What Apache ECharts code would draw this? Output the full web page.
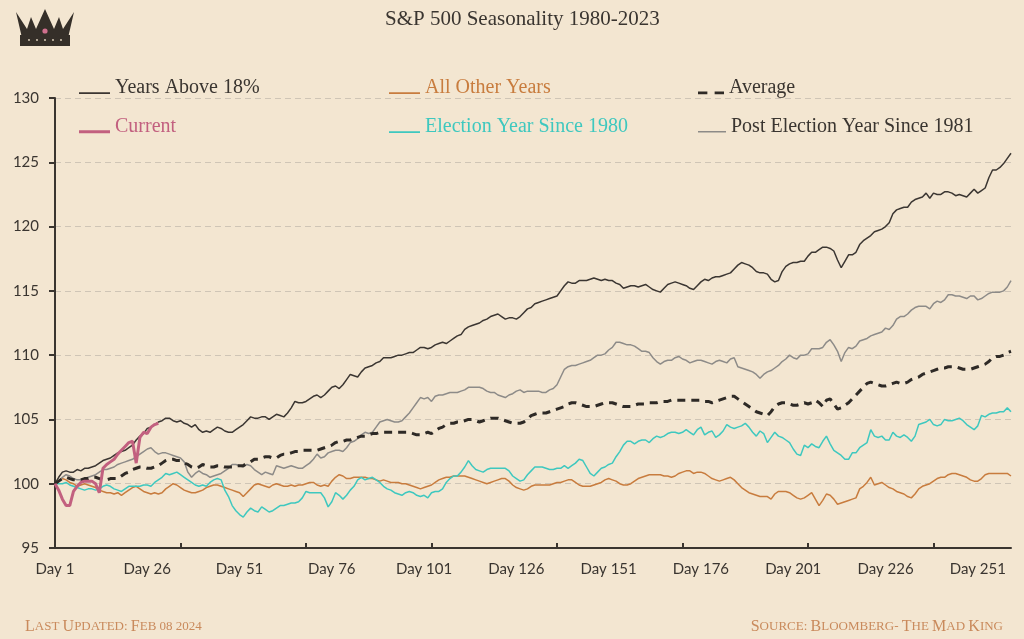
<!DOCTYPE html>
<html>
<head>
<meta charset="utf-8">
<script src="https://cdn.jsdelivr.net/npm/echarts@6/dist/echarts.min.js"></script>
<style>
html,body{margin:0;padding:0;background:#f3e6d1;}
#chart{width:1024px;height:639px;}
</style>
</head>
<body>
<div id="chart"></div>
<script>
// ---- Data ----
const dayCount = 260;
const days = Array.from({length: dayCount}, (_, i) => 'Day ' + (i + 1));

const yearsAbove18 = [
100.0,100.5,100.9,101.0,100.9,100.9,101.1,101.0,101.2,101.2,
101.3,101.4,101.6,101.8,101.9,102.0,102.2,102.4,102.5,102.6,
102.8,103.0,103.4,103.7,103.9,104.3,104.4,104.6,104.8,104.9,
105.1,105.1,104.9,104.8,104.9,104.7,104.6,104.4,104.6,104.2,
104.0,104.1,104.0,104.2,104.4,104.3,104.1,104.0,104.0,104.2,
104.4,104.6,104.9,105.2,105.1,105.1,105.2,105.2,105.0,105.2,
105.4,105.3,105.2,105.5,105.9,106.4,106.3,106.3,106.4,106.6,
106.8,106.9,106.7,106.9,107.2,107.5,107.6,107.4,107.7,108.1,
108.5,108.4,108.3,108.7,109.0,109.1,109.2,109.4,109.5,109.8,
109.8,109.8,109.9,110.0,110.0,110.1,110.2,110.2,110.4,110.6,
110.6,110.5,110.6,110.8,110.9,111.0,110.9,111.1,111.3,111.5,
111.6,112.0,112.2,112.3,112.4,112.5,112.7,112.8,113.0,113.1,
113.2,113.0,112.8,112.9,112.9,112.8,113.0,113.3,113.6,113.7,
114.0,114.1,114.2,114.3,114.4,114.5,114.6,115.0,115.4,115.7,
115.6,115.6,115.8,115.8,115.8,115.9,116.0,115.9,115.8,115.9,
115.8,115.8,115.6,115.5,115.2,115.3,115.4,115.4,115.3,115.4,
115.5,115.3,115.1,115.0,114.9,115.2,115.5,115.6,115.7,115.6,
115.5,115.4,115.2,115.1,115.4,115.7,115.9,115.8,116.0,116.1,
116.1,116.2,116.3,116.4,116.7,117.0,117.2,117.1,117.0,116.8,
116.5,116.4,116.4,116.3,115.9,115.7,115.8,116.5,116.9,117.1,
117.2,117.2,117.3,117.3,117.7,118.0,118.0,118.2,118.4,118.4,
118.3,118.1,117.4,116.8,117.3,117.8,117.8,118.0,118.6,118.9,
119.1,119.3,119.6,119.7,119.8,120.0,120.3,121.0,121.3,121.4,
121.5,121.5,121.9,122.1,122.2,122.3,122.6,122.2,122.6,122.5,
122.5,122.7,122.7,122.6,122.4,122.5,122.4,122.3,122.6,122.9,
122.6,122.8,123.0,123.8,124.4,124.4,124.6,124.9,125.3,125.7];

const allOtherYears = [
100.0,100.2,100.4,100.3,100.1,100.0,99.8,99.9,100.0,99.9,
99.8,99.7,99.5,99.4,99.3,99.3,99.2,99.3,99.1,99.3,
99.5,99.7,99.8,99.6,99.4,99.3,99.2,99.3,99.2,99.3,
99.6,99.8,100.0,99.9,99.7,99.5,99.4,99.3,99.3,99.4,
99.5,99.7,99.8,99.9,99.9,99.8,99.7,99.6,99.5,99.4,
99.3,99.0,99.3,99.6,99.9,100.0,99.9,99.8,99.7,99.9,
100.0,99.9,99.8,99.8,99.9,99.8,99.9,99.9,100.0,100.1,
100.1,99.9,99.8,99.9,99.8,100.2,100.5,100.7,100.6,100.4,
100.4,100.5,100.5,100.5,100.5,100.4,100.4,100.3,100.2,100.3,
100.2,100.1,100.1,100.1,100.0,100.0,99.9,99.8,99.7,99.6,
99.7,99.8,99.9,100.1,100.3,100.4,100.5,100.5,100.6,100.6,
100.6,100.6,100.5,100.4,100.3,100.2,100.1,100.0,100.1,100.2,
100.3,100.4,100.4,100.2,99.9,99.7,99.6,99.5,99.6,99.8,
99.9,99.9,99.9,99.9,99.9,100.0,100.1,100.1,100.2,100.3,
100.3,100.1,99.9,99.8,99.8,99.8,99.9,100.0,100.1,100.3,
100.4,100.3,100.2,100.0,99.9,99.9,100.0,100.2,100.4,100.5,
100.6,100.7,100.7,100.7,100.7,100.6,100.6,100.5,100.6,100.8,
100.9,101.0,101.0,100.8,100.9,100.9,100.8,100.6,100.4,100.3,
100.2,100.3,100.4,100.5,100.3,100.0,99.7,99.5,99.3,99.2,
99.1,99.0,99.0,99.0,98.8,99.2,99.4,99.4,99.4,99.3,
99.1,98.9,98.8,98.9,99.1,99.3,98.8,98.3,98.7,99.2,
99.1,98.8,98.4,98.5,98.6,98.7,98.8,98.9,99.6,99.8,
100.1,100.5,99.9,100.0,100.1,99.9,99.7,99.6,99.4,99.3,
99.2,99.0,98.9,99.2,99.6,99.8,99.9,100.0,100.2,100.4,
100.5,100.5,100.7,100.8,100.8,100.7,100.6,100.5,100.3,100.2,
100.2,100.4,100.7,100.8,100.8,100.8,100.8,100.8,100.8,100.6];

const average = [
100.0,100.2,100.4,100.5,100.4,100.3,100.3,100.3,100.4,100.4,
100.5,100.5,100.4,100.3,100.3,100.4,100.4,100.4,100.6,100.8,
100.9,101.1,101.2,101.3,101.3,101.2,101.2,101.3,101.4,101.6,
101.8,101.9,101.9,101.8,101.8,101.6,101.5,101.3,101.2,101.3,
101.5,101.4,101.3,101.3,101.4,101.4,101.3,101.3,101.3,101.4,
101.4,101.4,101.6,101.7,101.9,101.9,102.0,102.1,102.1,102.0,
102.0,102.2,102.3,102.3,102.4,102.5,102.5,102.6,102.6,102.6,
102.6,102.6,102.7,102.8,102.9,103.0,103.2,103.3,103.3,103.4,
103.4,103.5,103.6,103.7,103.7,103.8,103.9,103.9,104.0,104.0,
104.0,104.0,104.0,104.0,104.0,104.0,104.0,103.9,103.8,103.8,
103.9,104.0,103.9,104.1,104.3,104.4,104.6,104.7,104.7,104.8,
104.8,104.9,105.0,105.0,104.9,104.8,104.9,105.0,105.1,105.1,
105.1,105.0,104.9,104.8,104.7,104.7,104.7,104.8,105.0,105.3,
105.4,105.5,105.5,105.5,105.6,105.7,105.8,105.9,106.0,106.2,
106.3,106.3,106.2,106.1,106.0,106.0,106.0,106.1,106.2,106.3,
106.3,106.3,106.2,106.1,106.0,106.0,106.0,106.1,106.2,106.2,
106.2,106.3,106.3,106.3,106.4,106.4,106.4,106.5,106.5,106.5,
106.5,106.5,106.5,106.5,106.5,106.5,106.4,106.4,106.3,106.4,
106.5,106.6,106.7,106.8,106.8,106.6,106.4,106.2,106.0,105.8,
105.6,105.5,105.4,105.3,105.6,106.0,106.2,106.3,106.3,106.2,
106.1,106.1,106.2,106.3,106.2,106.3,106.5,106.3,106.0,106.5,
106.6,106.2,105.8,105.9,106.1,106.3,106.6,106.9,107.2,107.5,
107.8,107.9,107.8,107.7,107.6,107.6,107.7,107.8,107.9,107.8,
107.8,107.9,108.1,108.2,108.3,108.5,108.6,108.7,108.8,108.9,
109.0,109.0,109.1,109.1,109.1,109.0,108.9,108.9,108.9,109.0,
109.1,109.2,109.3,109.5,109.8,109.9,109.9,110.0,110.2,110.3];

const current = [
100.0,99.5,98.8,98.3,98.3,99.4,99.8,100.1,100.2,100.2,
100.2,100.0,99.3,101.2,101.5,101.7,101.9,102.3,102.6,102.9,
103.2,103.3,101.6,103.6,104.0,103.9,104.4,104.6,104.7];

const electionYear = [
100.0,100.0,100.0,100.1,99.9,99.8,99.7,99.6,99.5,99.6,
99.6,99.5,99.6,99.8,99.9,99.8,99.6,99.5,99.4,99.6,
99.8,99.8,99.8,99.8,99.9,99.9,99.8,100.1,100.3,100.5,
100.8,100.7,100.8,100.9,100.7,100.5,100.3,100.1,99.9,99.8,
99.9,99.8,100.1,100.3,100.4,100.3,99.5,99.0,98.3,97.9,
97.6,97.4,97.8,98.1,97.9,97.8,98.2,98.0,97.8,97.9,
98.1,98.3,98.3,98.4,98.5,98.5,98.6,98.9,99.4,99.3,
99.3,99.3,99.3,98.9,98.2,98.6,99.3,99.1,98.8,99.1,
99.5,99.8,100.3,100.5,100.3,100.4,100.5,100.3,100.1,99.8,
99.6,99.5,99.3,99.2,99.1,99.3,99.4,99.3,99.1,99.0,
99.1,98.9,99.3,99.4,99.4,99.6,100.1,100.4,100.6,100.6,
100.9,101.3,101.8,101.4,101.1,101.0,100.9,101.1,101.2,101.2,
101.2,101.2,101.2,101.0,100.6,100.4,100.2,100.3,100.7,101.0,
101.3,101.3,101.3,101.2,101.1,101.1,101.2,101.2,101.4,101.2,
101.4,101.6,101.9,101.8,101.3,100.8,100.6,100.9,101.2,101.3,
101.5,101.6,102.1,102.5,103.0,103.3,103.3,103.1,103.3,103.4,
103.4,103.2,103.5,103.7,103.6,103.7,103.9,104.0,104.0,103.9,
104.0,104.2,104.0,103.8,104.2,104.4,103.8,104.0,104.1,103.6,
103.8,104.1,104.6,104.4,104.3,104.4,104.5,104.7,104.4,104.0,
103.7,104.1,103.9,103.2,103.6,104.0,103.7,103.6,103.4,103.2,
102.7,102.3,102.2,103.0,102.8,103.1,102.9,102.8,103.3,103.7,
103.1,102.6,102.4,102.2,101.9,101.9,102.4,102.4,102.8,103.0,
103.2,104.2,103.7,103.6,103.7,103.4,103.4,104.0,103.7,103.6,
103.8,103.6,103.3,103.7,104.6,104.7,104.8,105.0,104.6,104.5,
104.6,105.0,104.9,104.9,105.0,105.1,104.9,104.6,104.4,104.2,
104.5,105.3,105.2,105.4,105.5,105.5,105.6,105.6,105.9,105.6];

const postElectionYear = [
100.0,100.2,100.5,100.7,100.6,100.4,100.3,100.3,100.4,100.5,
100.6,100.7,100.9,101.1,101.1,101.2,101.3,101.5,101.6,101.7,
101.8,101.9,102.1,102.3,102.5,102.7,102.8,102.5,102.3,102.4,
102.4,102.3,102.2,102.1,102.0,101.7,100.9,100.5,100.8,101.0,
100.8,100.7,100.5,100.6,100.7,100.8,101.0,101.2,101.5,101.5,
101.4,101.3,101.5,101.4,101.1,100.9,100.7,100.9,100.8,100.7,
101.4,101.3,101.2,101.3,101.4,101.3,101.2,101.2,101.4,101.6,
101.9,102.3,102.0,102.1,102.4,102.5,102.6,102.6,102.5,102.8,
103.2,103.3,103.5,103.8,104.0,103.9,104.0,104.4,104.8,104.9,
105.0,104.9,104.8,104.8,104.9,105.2,105.5,105.9,106.3,106.7,
106.6,106.7,106.4,106.8,106.9,106.9,107.0,107.1,107.1,107.1,
107.2,107.3,107.5,107.5,107.5,107.5,107.4,107.2,107.1,107.1,
106.9,106.8,106.7,106.9,107.0,107.2,107.3,107.1,107.2,107.2,
107.2,107.2,107.1,107.1,107.3,107.4,107.7,108.3,108.9,109.1,
109.2,109.2,109.3,109.4,109.5,109.6,109.8,110.0,110.0,110.1,
110.4,110.6,111.0,111.0,110.9,110.8,110.8,110.7,110.5,110.3,
110.3,110.2,109.8,109.5,109.3,109.5,109.6,109.6,109.8,109.9,
109.7,109.6,109.4,109.5,109.6,109.6,109.5,109.4,109.3,109.5,
109.6,109.5,109.4,109.7,109.8,109.1,109.0,108.9,108.8,108.7,
108.5,108.2,108.5,108.7,108.8,109.0,109.2,109.5,109.7,110.0,
109.8,109.7,110.0,110.0,110.1,110.5,110.5,110.5,110.6,111.0,
111.2,110.8,110.3,109.5,110.2,110.6,110.5,110.7,111.1,111.2,
111.3,111.5,111.6,111.7,111.8,112.1,112.0,112.3,112.8,113.0,
113.0,113.2,113.5,113.7,113.8,113.8,113.8,113.6,114.0,114.2,
114.1,114.3,114.7,114.7,114.6,114.6,114.5,114.4,114.6,114.6,
114.3,114.4,114.6,114.8,114.9,114.9,114.9,115.0,115.3,115.8];

const yTicks = {min: 95, max: 130, step: 5};
const titleText = 'S&P 500 Seasonality 1980-2023';

// ---- Styles ----
const DARK = '#3a3530';
const C_ABOVE = '#3b3632';
const C_OTHER = '#c87c3e';
const C_AVG = '#2e2a26';
const C_CUR = '#c2607f';
const C_ELEC = '#3ec8bf';
const C_POST = '#8d8b88';
const SERIF = '"Liberation Serif", "DejaVu Serif", serif';
const SANS = 'Lato, "Open Sans", sans-serif';

// legend icons: a thin bar sitting near the text baseline (invisible speck fixes the box top)
const ICON_THIN = 'path://M0,0L0.02,0L0,0.02Z M0,10h30v1.6h-30Z';
const ICON_THICK = 'path://M0,0L0.02,0L0,0.02Z M0,9.2h30v3h-30Z';
const ICON_DASH = 'path://M0,0L0.02,0L0,0.02Z M0,9.4h9v2.8h-9Z M16,9.4h9v2.8h-9Z';

const chart = echarts.init(document.getElementById('chart'), null, {renderer: 'canvas'});

function legendAt(left, top, name, color, icon, w) {
  return {
    left: left, top: top, orient: 'horizontal', selectedMode: false,
    itemWidth: w || 31, itemHeight: 14, itemGap: 0,
    textStyle: {fontFamily: SERIF, fontSize: 20, color: color},
    data: [{name: name, icon: icon, textStyle: {color: color}}]
  };
}

function lineSeries(name, data, color, width, extra) {
  return Object.assign({
    name: name, type: 'line', data: data, showSymbol: false, symbol: 'none',
    smooth: false, animation: false,
    lineStyle: {color: color, width: width},
    itemStyle: {color: color},
    emphasis: {disabled: true}
  }, extra || {});
}

const option = {
  backgroundColor: '#f3e6d1',
  animation: false,
  title: {
    text: titleText, left: 380, top: 4,
    textStyle: {fontFamily: SERIF, fontSize: 21, fontWeight: 'normal', color: DARK}
  },
  legend: [
    legendAt(74, 73, 'Years Above 18%', DARK, ICON_THIN),
    legendAt(384, 73, 'All Other Years', C_OTHER, ICON_THIN),
    legendAt(693, 73, 'Average', DARK, ICON_DASH, 26),
    legendAt(74, 112, 'Current', C_CUR, ICON_THICK),
    legendAt(384, 112, 'Election Year Since 1980', C_ELEC, ICON_THIN),
    legendAt(693, 112, 'Post Election Year Since 1981', DARK, ICON_THIN, 28)
  ],
  grid: {left: 55, right: 13, top: 98, bottom: 91, containLabel: false},
  xAxis: {
    type: 'category', data: days, boundaryGap: false,
    axisLine: {lineStyle: {color: DARK, width: 2}},
    axisTick: {
      show: true, inside: true, length: 5,
      lineStyle: {color: DARK, width: 2},
      interval: function (idx) { return idx > 0 && idx % 34 === 0; }
    },
    axisLabel: {
      interval: 24, margin: 14, color: DARK, fontFamily: SANS, fontSize: 15
    },
    splitLine: {show: false}
  },
  yAxis: {
    type: 'value', min: yTicks.min, max: yTicks.max, interval: yTicks.step,
    axisLine: {show: true, lineStyle: {color: DARK, width: 2}},
    axisTick: {show: true, inside: false, length: 6, lineStyle: {color: DARK, width: 2}},
    axisLabel: {margin: 16, color: DARK, fontFamily: SANS, fontSize: 15},
    splitLine: {show: true, lineStyle: {color: '#cfc5b6', width: 1, type: [6, 4]}}
  },
  series: [
    lineSeries('Years Above 18%', yearsAbove18, C_ABOVE, 1.5, {z: 3}),
    lineSeries('All Other Years', allOtherYears, C_OTHER, 1.5, {z: 3}),
    lineSeries('Average', average, C_AVG, 3, {z: 4, lineStyle: {color: C_AVG, width: 3, type: [8, 6]}}),
    lineSeries('Current', current, C_CUR, 3, {z: 6}),
    lineSeries('Election Year Since 1980', electionYear, C_ELEC, 1.5, {z: 3}),
    lineSeries('Post Election Year Since 1981', postElectionYear, C_POST, 1.5, {z: 3})
  ],
  graphic: [
    {
      type: 'polygon', z: 10,
      shape: {points: [[22,38],[16,12],[27,29],[31,17],[36,29],[45,9],[54,29],[59,17],[63,29],[74,12],[68,38]]},
      style: {fill: '#352f29'}
    },
    {type: 'rect', z: 10, shape: {x: 20, y: 35, width: 50, height: 11}, style: {fill: '#352f29'}},
    {type: 'circle', z: 11, shape: {cx: 45, cy: 31, r: 2.6}, style: {fill: '#d0708e'}},
    {type: 'circle', z: 11, shape: {cx: 29, cy: 40, r: 0.9}, style: {fill: '#e9dcc6'}},
    {type: 'circle', z: 11, shape: {cx: 37, cy: 40, r: 0.9}, style: {fill: '#e9dcc6'}},
    {type: 'circle', z: 11, shape: {cx: 45, cy: 40, r: 0.9}, style: {fill: '#e9dcc6'}},
    {type: 'circle', z: 11, shape: {cx: 53, cy: 40, r: 0.9}, style: {fill: '#e9dcc6'}},
    {type: 'circle', z: 11, shape: {cx: 61, cy: 40, r: 0.9}, style: {fill: '#e9dcc6'}},
    {
      type: 'text', left: 25, top: 619, z: 10,
      style: {
        text: '{a|L}{b|AST }{a|U}{b|PDATED: }{a|F}{b|EB 08 2024}',
        rich: {
          a: {fontFamily: SERIF, fontSize: 16, fill: '#c98a5c', color: '#c98a5c'},
          b: {fontFamily: SERIF, fontSize: 13, fill: '#c98a5c', color: '#c98a5c'}
        }
      }
    },
    {
      type: 'text', right: 21, top: 619, z: 10,
      style: {
        text: '{a|S}{b|OURCE: }{a|B}{b|LOOMBERG- }{a|T}{b|HE }{a|M}{b|AD }{a|K}{b|ING}',
        rich: {
          a: {fontFamily: SERIF, fontSize: 16, fill: '#c98a5c', color: '#c98a5c'},
          b: {fontFamily: SERIF, fontSize: 13, fill: '#c98a5c', color: '#c98a5c'}
        }
      }
    }
  ]
};

chart.setOption(option);
</script>
</body>
</html>
